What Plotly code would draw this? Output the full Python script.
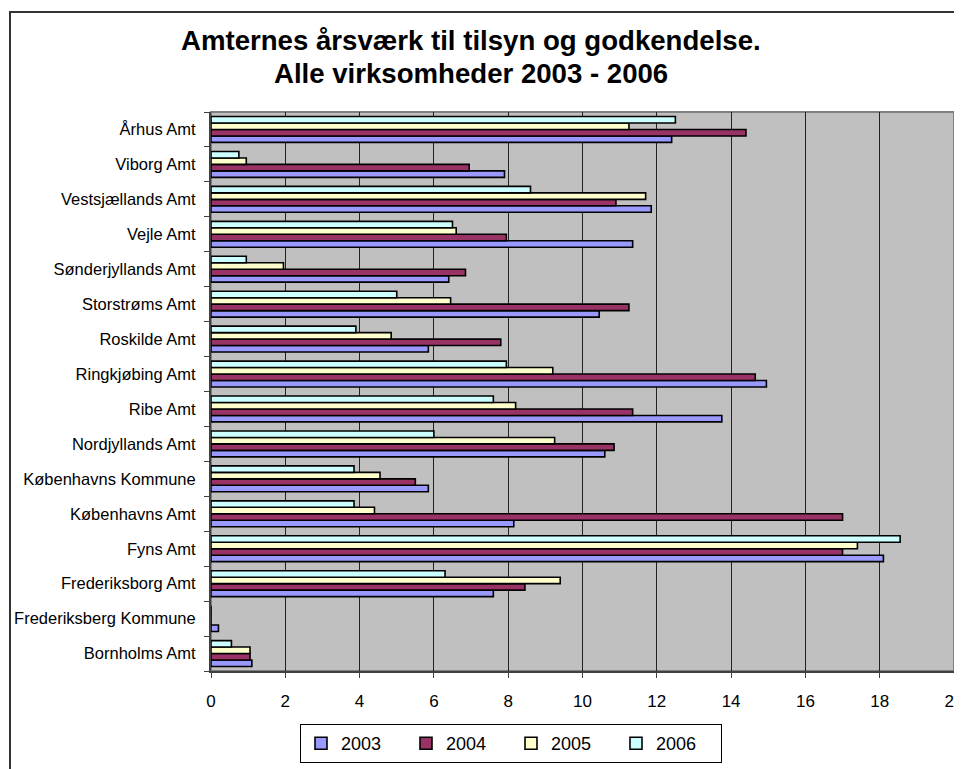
import plotly.graph_objects as go

categories = ["Bornholms Amt", "Frederiksberg Kommune", "Frederiksborg Amt", "Fyns Amt",
              "Københavns Amt", "Københavns Kommune", "Nordjyllands Amt", "Ribe Amt",
              "Ringkjøbing Amt", "Roskilde Amt", "Storstrøms Amt", "Sønderjyllands Amt",
              "Vejle Amt", "Vestsjællands Amt", "Viborg Amt", "Århus Amt"]

v2003 = [1.1, 0.2, 7.6, 18.1, 8.15, 5.85, 10.6, 13.75, 14.95, 5.85, 10.45, 6.4, 11.35, 11.85, 7.9, 12.4]
v2004 = [1.05, 0, 8.45, 17.0, 17.0, 5.5, 10.85, 11.35, 14.65, 7.8, 11.25, 6.85, 7.95, 10.9, 6.95, 14.4]
v2005 = [1.05, 0, 9.4, 17.4, 4.4, 4.55, 9.25, 8.2, 9.2, 4.85, 6.45, 1.95, 6.6, 11.7, 0.95, 11.25]
v2006 = [0.55, 0, 6.3, 18.55, 3.85, 3.85, 6.0, 7.6, 7.95, 3.9, 5.0, 0.95, 6.5, 8.6, 0.75, 12.5]

series_names = ["2003", "2004", "2005", "2006"]
series_values = [v2003, v2004, v2005, v2006]
series_colors = ["#9999FF", "#993366", "#FFFFCC", "#CCFFFF"]

x_ticks = [0, 2, 4, 6, 8, 10, 12, 14, 16, 18, 20]

title_lines = ["Amternes årsværk til tilsyn og godkendelse.", "Alle virksomheder 2003 - 2006"]

# page body margin offset (screen px -> figure px)
OFF = 8
W, H = 962 - OFF, 769 - OFF
# plot area in screen pixels
SL, SR, ST, SB = 211, 954, 112, 671
L, R, T, B = SL - OFF, SR - OFF, ST - OFF, SB - OFF
pw, ph = R - L, B - T

def px_x(p):
    return (p - SL) / pw

def px_y(p):
    return (SB - p) / ph

fig = go.Figure()
for name, vals, col in zip(series_names, series_values, series_colors):
    fig.add_trace(go.Bar(
        y=categories, x=vals, name=name, orientation="h",
        marker=dict(color=col, line=dict(color="#000000", width=1.6)),
    ))

font_family = "Liberation Sans, Arial, sans-serif"

annotations = []
for txt, yc in zip(title_lines, [40, 73]):
    annotations.append(dict(
        text=txt, xref="paper", yref="paper", x=px_x(471), y=px_y(yc),
        xanchor="center", yanchor="middle", showarrow=False,
        font=dict(family=font_family, size=27.6, color="#000000", weight="bold"),
    ))

fig.update_layout(
    width=W, height=H,
    margin=dict(l=L, r=W - R, t=T, b=H - B, autoexpand=False),
    paper_bgcolor="white",
    plot_bgcolor="#C0C0C0",
    barmode="group",
    bargap=0.26,
    bargroupgap=0,
    font=dict(family=font_family, color="#000000"),
    annotations=annotations,
    xaxis=dict(
        range=[0, 20], tickvals=x_ticks, ticktext=[str(t) for t in x_ticks],
        showgrid=True, gridcolor="#222222", gridwidth=1,
        ticks="outside", ticklen=5, tickcolor="#404040",
        showline=True, linecolor="#404040", linewidth=2,
        zeroline=False, tickfont=dict(size=17), fixedrange=True,
        automargin=False, ticklabelstandoff=9, ticklabeloverflow="allow",
    ),
    yaxis=dict(
        type="category", categoryorder="array", categoryarray=categories,
        ticks="outside", ticklen=5, tickcolor="#404040", tickson="boundaries",
        showline=True, linecolor="#404040", linewidth=2,
        showgrid=False, tickfont=dict(size=16.5), ticklabelstandoff=10,
        automargin=False,
    ),
    legend=dict(
        orientation="h", x=px_x(300), xanchor="left",
        y=px_y(724), yanchor="top",
        bordercolor="#000000", borderwidth=1,
        font=dict(size=18), entrywidth=60, traceorder="normal",
        itemclick=False,
    ),
    showlegend=True,
    shapes=[
        dict(type="rect", xref="paper", yref="paper", x0=0, x1=1, y0=0, y1=1,
             line=dict(color="#808080", width=2), layer="below"),
        dict(type="rect", xref="paper", yref="paper",
             x0=px_x(10), x1=px_x(975), y0=px_y(785), y1=px_y(12),
             line=dict(color="#333333", width=2)),
    ],
)

fig.write_html("out.html")
